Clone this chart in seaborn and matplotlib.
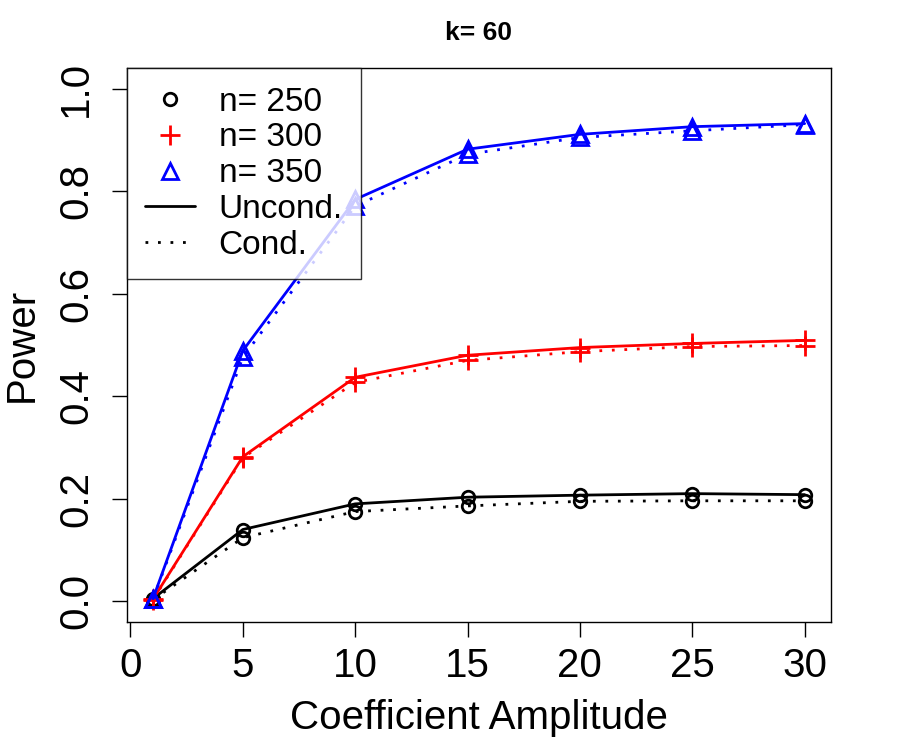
import numpy as np
import pandas as pd
import matplotlib
matplotlib.use("Agg")
import matplotlib.pyplot as plt
import seaborn as sns
from matplotlib.lines import Line2D

# values
amplitude = [1, 5, 10, 15, 20, 25, 30]
sizes = [250, 300, 350]
uncond = {
    250: [0.005, 0.140, 0.190, 0.203, 0.207, 0.210, 0.208],
    300: [0.004, 0.282, 0.437, 0.480, 0.495, 0.503, 0.509],
    350: [0.005, 0.489, 0.784, 0.882, 0.911, 0.926, 0.932],
}
cond = {
    250: [0.003, 0.124, 0.175, 0.186, 0.195, 0.196, 0.196],
    300: [0.003, 0.280, 0.427, 0.470, 0.487, 0.497, 0.499],
    350: [0.004, 0.476, 0.771, 0.872, 0.905, 0.918, 0.930],
}
colors = {250: "black", 300: "red", 350: "blue"}
markers = {250: "o", 300: "+", 350: "^"}
msize = {250: 9, 300: 14, 350: 11}

sns.set_style("ticks")
plt.rcParams["font.family"] = ["Liberation Sans", "DejaVu Sans"]
plt.rcParams["text.color"] = "black"
plt.rcParams["axes.labelcolor"] = "black"
plt.rcParams["xtick.color"] = "black"
plt.rcParams["ytick.color"] = "black"

fig = plt.figure(figsize=(9, 7.5), dpi=100)
ax = fig.add_axes([0.141, 0.171, 0.782, 0.738])

for n in sizes:
    for vals, ls in [(uncond[n], "-"), (cond[n], (0, (1, 3.5)))]:
        sns.lineplot(x=amplitude, y=vals, ax=ax, color=colors[n], linestyle=ls,
                     linewidth=2, marker=markers[n], markersize=msize[n],
                     markerfacecolor="none", markeredgecolor=colors[n],
                     markeredgewidth=2, legend=False)

ax.set_xlim(-0.16, 31.16)
ax.set_ylim(-0.04, 1.04)
ax.set_xticks([0, 5, 10, 15, 20, 25, 30])
ax.set_yticks([0.0, 0.2, 0.4, 0.6, 0.8, 1.0])
ax.set_yticklabels(["0.0", "0.2", "0.4", "0.6", "0.8", "1.0"], rotation=90, va="center")
ax.tick_params(axis="both", labelsize=29, length=11, width=1, direction="out")
ax.tick_params(axis="x", pad=7)
ax.tick_params(axis="y", pad=12)
for s in ax.spines.values():
    s.set_visible(True)
    s.set_linewidth(1)
    s.set_color("black")
ax.set_xlabel("Coefficient Amplitude", fontsize=29, labelpad=10)
ax.set_ylabel("Power", fontsize=29, labelpad=12)
ax.set_title("k= 60", fontsize=19, fontweight="bold", pad=20)

handles = [
    Line2D([], [], color="black", marker="o", linestyle="none", markersize=9,
           markerfacecolor="none", markeredgewidth=2),
    Line2D([], [], color="red", marker="+", linestyle="none", markersize=14,
           markeredgewidth=2),
    Line2D([], [], color="blue", marker="^", linestyle="none", markersize=11,
           markerfacecolor="none", markeredgewidth=2),
    Line2D([], [], color="black", linestyle="-", linewidth=2),
    Line2D([], [], color="black", linestyle=(0, (1, 3.5)), linewidth=2),
]
labels = ["n= 250", "n= 300", "n= 350", "Uncond.", "Cond."]
leg = ax.legend(handles, labels, loc="upper left", fontsize=24, frameon=True,
                fancybox=False, edgecolor="black", borderaxespad=0,
                handlelength=1.5, handletextpad=0.7, labelspacing=0.145,
                borderpad=0.55)
leg.get_frame().set_linewidth(1)

fig.savefig("out.png", dpi=100, facecolor="white")
